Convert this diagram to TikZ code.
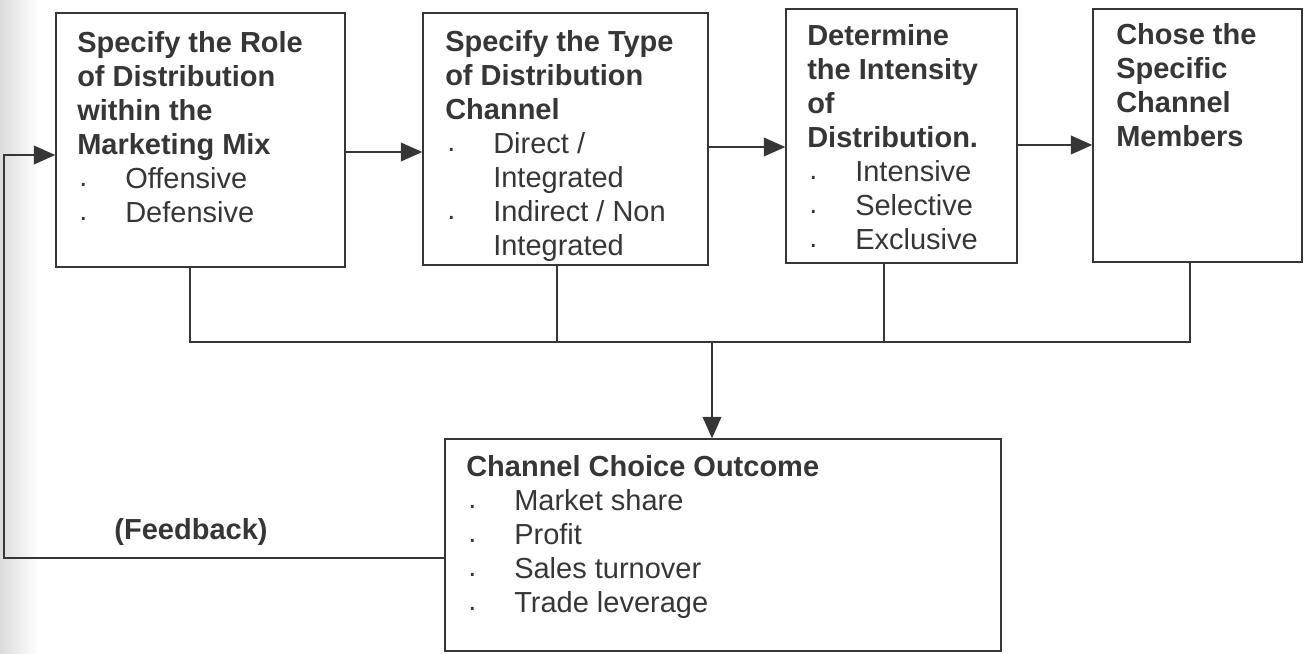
\documentclass[tikz,border=0pt]{standalone}
\usepackage{fontspec}
\setmainfont{Liberation Sans}
\usetikzlibrary{arrows.meta,fit}
\definecolor{ink}{HTML}{363636}
\newcommand{\bul}[1]{\makebox[36pt][l]{\hspace{1.5pt}\raisebox{1.5pt}{.}}#1}
\newcommand{\cont}[1]{\hspace*{36pt}#1}
\begin{document}
\begin{tikzpicture}[x=0.75pt, y=-0.75pt,
		box/.style = {draw=ink, line width=1.1pt, inner sep=0pt},
		txt/.style = {anchor=north west, inner sep=0pt, align=left, text=ink,
			font=\fontsize{21.75pt}{25.5pt}\selectfont},
		arr/.style = {draw=ink, line width=1.1pt, -{Triangle[length=16pt, width=14pt]}},
		con/.style = {draw=ink, line width=1.1pt}]
		\useasboundingbox (0,0) rectangle (1312,653);
		\shade[left color=black!14, right color=white] (0,0) rectangle (38,653);
		% Boxes
		\node[box, fit={(56,13) (345,267)}] (role) {};
		\node[box, fit={(423,13) (708,265)}] (type) {};
		\node[box, fit={(786,9) (1017,263)}] (intens) {};
		\node[box, fit={(1093,9) (1302,262)}] (members) {};
		\node[box, fit={(445,439) (1001,651)}] (outcome) {};
		% Texts
		\node[txt] (roleT) at (77,31) {\textbf{Specify the Role}\\\textbf{of Distribution}\\\textbf{within the}\\\textbf{Marketing Mix}\\\bul{Offensive}\\\bul{Defensive}};
		\node[txt] (typeT) at (445,30) {\textbf{Specify the Type}\\\textbf{of Distribution}\\\textbf{Channel}\\\bul{Direct /}\\\cont{Integrated}\\\bul{Indirect / Non}\\\cont{Integrated}};
		\node[txt] (intensT) at (807,24) {\textbf{Determine}\\\textbf{the Intensity}\\\textbf{of}\\\textbf{Distribution.}\\\bul{Intensive}\\\bul{Selective}\\\bul{Exclusive}};
		\node[txt] (membersT) at (1116,23) {\textbf{Chose the}\\\textbf{Specific}\\\textbf{Channel}\\\textbf{Members}};
		\node[txt] (outcomeT) at (466,455) {\textbf{Channel Choice Outcome}\\\bul{Market share}\\\bul{Profit}\\\bul{Sales turnover}\\\bul{Trade leverage}};
		\node[txt, anchor=center, font=\fontsize{21.75pt}{25.5pt}\selectfont\bfseries] (fbk) at (191,532) {(Feedback)};
		% Arrows
		\draw[arr] (role.east |- 0,152) -- (type.west |- 0,152);		% role -> type
		\draw[arr] (type.east |- 0,147) -- (intens.west |- 0,147);		% type -> intensity
		\draw[arr] (intens.east |- 0,145) -- (members.west |- 0,145);	% intensity -> members
		\coordinate (bus) at (712,342);
		\draw[con] (role.south -| 190,0) |- (bus);
		\draw[con] (members.south -| 1190,0) |- (bus);
		\draw[con] (type.south -| 557,0) -- (bus -| 557,0);
		\draw[con] (intens.south -| 884,0) -- (bus -| 884,0);
		\draw[arr] (bus) -- (outcome.north -| bus);				% -> outcome
		\coordinate (fb) at (4,155);
		\draw[arr] (outcome.west |- 0,558) -| (fb) -- (role.west |- fb);	% feedback
\end{tikzpicture}
\end{document}
